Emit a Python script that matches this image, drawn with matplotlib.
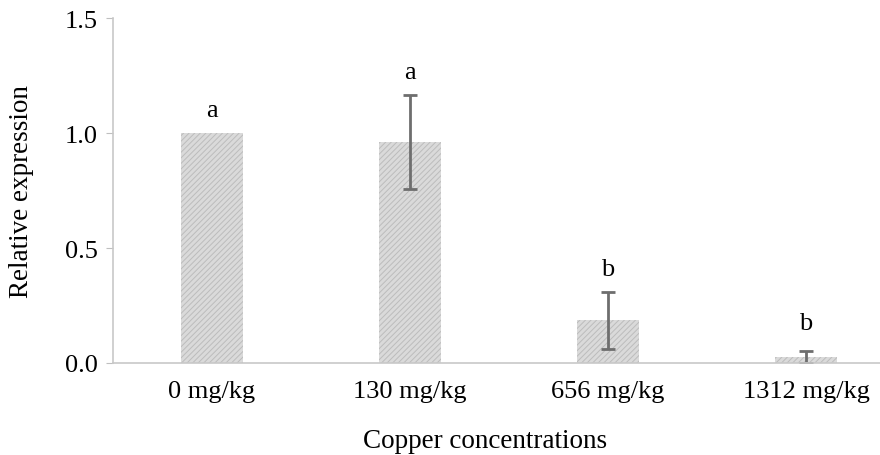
import matplotlib
matplotlib.use("Agg")
import matplotlib.pyplot as plt
import numpy as np

categories = ["0 mg/kg", "130 mg/kg", "656 mg/kg", "1312 mg/kg"]
values = [1.0, 0.96, 0.185, 0.026]
errors = [0.0, 0.205, 0.125, 0.026]
letters = ["a", "a", "b", "b"]

plt.rcParams["font.family"] = ["Liberation Serif", "DejaVu Serif"]
plt.rcParams["hatch.linewidth"] = 0.7

fig = plt.figure(figsize=(8.8, 4.56), dpi=100)
# axes runs past the right edge as in the reference
ax = fig.add_axes([113 / 880, 1 - 364 / 456, 792 / 880, 345 / 456])

x = np.arange(len(categories))
ax.bar(x, values, width=0.315, color="#dadada", edgecolor="#bcbcbc",
       linewidth=0, hatch="//////")
ax.errorbar(x[1:], values[1:], yerr=errors[1:], fmt="none", ecolor="#6e6e6e",
            elinewidth=2, capsize=5, capthick=2)

letter_y = [1.1, 1.265, 0.41, 0.175]
for xi, ly, t in zip(x, letter_y, letters):
    ax.text(xi, ly, t, ha="center", va="center", fontsize=19)

ax.set_xlim(-0.5, 3.5)
ax.set_ylim(0, 1.5)
ax.set_yticks([0, 0.5, 1.0, 1.5])
ax.set_yticklabels(["0.0", "0.5", "1.0", "1.5"])
ax.set_xticks(x)
ax.set_xticklabels(categories)
ax.tick_params(axis="both", labelsize=19, color="#bfbfbf")
ax.tick_params(axis="x", length=0, pad=12)
ax.tick_params(axis="y", length=5, pad=6)

for s in ["top", "right"]:
    ax.spines[s].set_visible(False)
for s in ["left", "bottom"]:
    ax.spines[s].set_color("#c8c8c8")
    ax.spines[s].set_linewidth(1.2)

ax.set_ylabel("Relative expression", fontsize=19.5, labelpad=22)
ax.set_xlabel("Copper concentrations", fontsize=19.5, labelpad=19,
              x=(485 - 113) / 792)

fig.savefig("out.png", dpi=100)
